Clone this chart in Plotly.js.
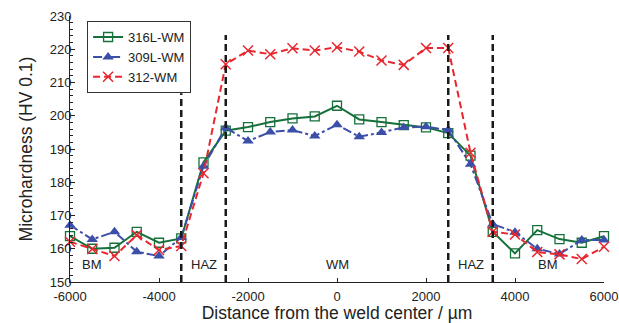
<!DOCTYPE html>
<html>
<head>
<meta charset="utf-8">
<script src="https://cdn.plot.ly/plotly-3.0.1.min.js"></script>
<style>html,body{margin:0;padding:0;background:#fff;}#chart{width:619px;height:323px;}</style>
</head>
<body>
<div id="chart"></div>
<script>
var distance = [-6000,-5500,-5000,-4500,-4000,-3500,-3000,-2500,-2000,-1500,-1000,-500,0,500,1000,1500,2000,2500,3000,3500,4000,4500,5000,5500,6000];
var hv316L = [163.8,160.0,160.3,165.1,161.8,163.1,186.0,195.5,196.6,198.1,199.2,199.8,203.0,198.9,198.1,197.2,196.5,194.8,188.0,165.1,158.6,165.6,162.9,161.8,163.8];
var hv309L = [167.1,162.8,165.1,159.1,157.8,163.4,184.8,196.4,192.4,195.1,195.7,193.9,197.3,193.7,195.0,196.5,196.7,195.7,185.4,167.4,165.0,160.0,158.4,162.6,162.6];
var hv312 = [162.1,159.9,157.8,164.1,159.6,160.8,182.7,215.5,219.6,218.5,220.3,219.6,220.6,219.3,216.6,215.3,220.4,220.4,188.9,165.1,164.3,159.0,158.3,156.9,160.6];
var seriesNames = ['316L-WM','309L-WM','312-WM'];
var xTickVals = [-6000,-4000,-2000,0,2000,4000,6000];
var xTickText = ['-6000','-4000','-2000','0','2000','4000','6000'];
var zoneBounds = [-3500,-2500,2500,3500];
var zoneTops = [206.8,224.3,224.3,224.3];
var zoneLabels = ['BM','HAZ','WM','HAZ','BM'];
var zoneLabelX = [-5500,-3000,0,3000,4750];
var zoneLabelY = 155.2;

var FONT = 'Arial, "Liberation Sans", sans-serif';
var green = '#16703a', blue = '#3b4ea8', red = '#e8262e';

var traces = [
  {x: distance, y: hv316L, name: seriesNames[0], type: 'scatter', mode: 'lines+markers', cliponaxis: false,
   line: {color: green, width: 2}, marker: {symbol: 'square-open', size: 9, color: green, line: {width: 1.3, color: green}}},
  {x: distance, y: hv309L, name: seriesNames[1], type: 'scatter', mode: 'lines+markers', cliponaxis: false,
   line: {color: blue, width: 2, dash: '9px,3px,3px,3px'}, marker: {symbol: 'triangle-up', size: 10, color: blue}},
  {x: distance, y: hv312, name: seriesNames[2], type: 'scatter', mode: 'lines+markers', cliponaxis: false,
   line: {color: red, width: 2, dash: '7px,4px'}, marker: {symbol: 'x-thin-open', size: 10, color: red, line: {width: 1.5, color: red}}}
];

var shapes = zoneBounds.map(function(b, i) {
  return {type: 'line', xref: 'x', yref: 'y', x0: b, x1: b, y0: 150, y1: zoneTops[i],
          line: {color: '#1a1a1a', width: 2.5, dash: '7px,4px'}};
});

var annotations = zoneLabels.map(function(t, i) {
  return {x: zoneLabelX[i], y: zoneLabelY, xref: 'x', yref: 'y', text: t, showarrow: false,
          font: {family: FONT, size: 13, color: '#222'}};
});

var layout = {
  width: 619, height: 323,
  margin: {l: 70, r: 15, t: 16, b: 41},
  paper_bgcolor: '#fff', plot_bgcolor: '#fff',
  font: {family: FONT, size: 13, color: '#222'},
  showlegend: true,
  legend: {x: 0.032, y: 0.981, xanchor: 'left', yanchor: 'top', bgcolor: '#fff',
           bordercolor: '#333', borderwidth: 1, font: {family: FONT, size: 13, color: '#222'},
           tracegroupgap: 0},
  xaxis: {range: [-6000, 6000], tickvals: xTickVals, ticktext: xTickText, showgrid: false, zeroline: false,
          showline: true, linecolor: '#222', linewidth: 1, ticks: 'inside', ticklen: 4, tickcolor: '#222',
          ticklabelstandoff: 2,
          tickfont: {family: FONT, size: 13, color: '#222'},
          title: {text: 'Distance from the weld center / µm', font: {family: FONT, size: 17.5, color: '#222'}, standoff: 1}},
  yaxis: {range: [150, 230], dtick: 10, showgrid: false, zeroline: false,
          showline: true, linecolor: '#222', linewidth: 1, ticks: 'inside', ticklen: 5, tickcolor: '#222',
          ticklabelstandoff: -5,
          minor: {dtick: 2, ticks: 'inside', ticklen: 3, tickcolor: '#222'},
          tickfont: {family: FONT, size: 13, color: '#222'},
          title: {text: 'Microhardness (HV 0.1)', font: {family: FONT, size: 17.5, color: '#222'}, standoff: 12}},
  shapes: shapes,
  annotations: annotations
};

Plotly.newPlot('chart', traces, layout, {displayModeBar: false, staticPlot: true});
</script>
</body>
</html>
